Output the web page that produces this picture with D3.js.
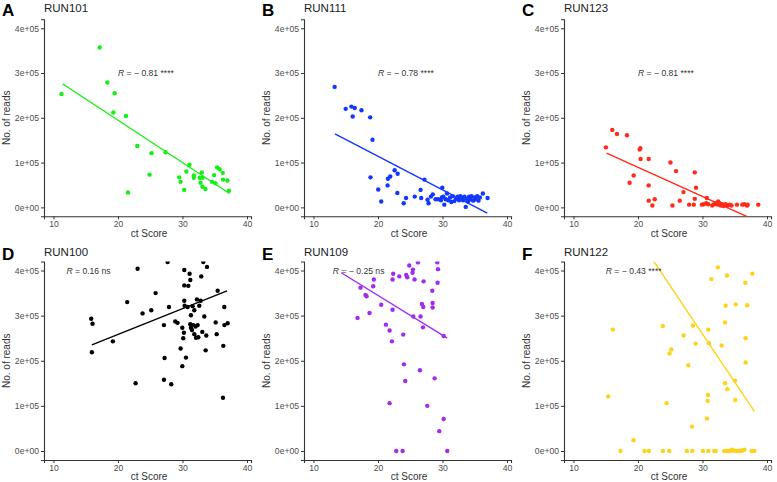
<!DOCTYPE html>
<html><head><meta charset="utf-8">
<script src="https://cdn.jsdelivr.net/npm/d3@7"></script>
<style>body{margin:0;background:#fff}svg{display:block}</style>
</head><body>
<svg id="chart" width="777" height="482"></svg>
<script>
const panelLetters = ["A","B","C","D","E","F"];
const panelTitles = ["RUN101","RUN111","RUN123","RUN100","RUN109","RUN122"];
const panelColors = ["#14f014","#1238ff","#ff2a18","#000000","#a12cf0","#ffd21a"];
const corrLabels = ["\u2212 0.81 ****","\u2212 0.78 ****","\u2212 0.81 ****","0.16 ns","\u2212 0.25 ns","\u2212 0.43 ****"];
const corrLabelX = [20,20,20,12,13,15];
const corrLabelY = [300000,300000,300000,400000,400000,400000];
const xTicks = [10,20,30,40];
const yTicks = [0,100000,200000,300000,400000];
const yTickLabels = ["0e+00","1e+05","2e+05","3e+05","4e+05"];

const runA_x = [11.24,17.16,18.35,19.48,19.28,21.24,21.55,22.99,24.9,25.2,27.37,29.5,29.7,30.26,30.6,31.08,31.75,31.75,32.68,32.8,32.99,33.1,33.1,33.56,34.59,34.9,35.1,35.36,35.77,36.24,36.29,36.96,37.2];
const runA_y = [253000,357000,279000,255000,212000,204000,33000,137000,73000,121000,123000,67000,57000,39000,80000,95000,71000,66000,66000,55000,78000,66000,46000,41000,57000,72000,54000,89000,85000,77000,62000,60000,37000];

const runB_x = [13.28,14.99,15.88,16.08,16.4,17.44,18.79,19.15,18.84,20.04,20.5,21.49,21.54,21.9,22.58,23.05,23.0,23.99,24.35,25.7,26.6,26.7,27.2,27.68,27.84,28.2,28.5,28.93,29.34,29.76,29.9,29.97,30.12,30.28,30.5,30.7,30.9,31.17,31.37,31.58,31.84,32.1,32.36,32.57,32.78,32.99,33.19,33.4,33.6,33.77,33.97,34.13,34.34,34.5,34.75,34.96,35.17,35.38,35.58,35.8,36.26,36.99];
const runB_y = [269000,220000,225000,203000,222000,217000,201000,151000,67000,40000,13000,49000,64000,69000,83000,75000,32000,9000,21000,24000,39000,21000,62000,17000,9000,24000,29000,18000,18000,16000,22000,44000,24000,6000,18000,31000,16000,22000,12000,25000,14000,19000,24000,16000,25000,21000,16000,24000,1000,19000,13000,24000,18000,25000,15000,22000,18000,25000,15000,22000,31000,21000];

const runC_x = [15.03,16.01,16.74,18.29,18.7,19.33,20.26,20.36,20.41,21.66,21.66,21.66,22.23,22.59,25.03,25.34,25.9,26.48,27.05,27.93,28.65,28.8,28.8,29.0,29.9,30.2,30.57,30.67,30.88,31.5,31.8,32.1,32.33,32.44,32.64,32.85,33.06,33.26,33.58,33.89,34.2,34.5,35.34,36.17,36.48,36.9,37.0,38.65];
const runC_y = [134000,173000,164000,161000,55000,71000,129000,132000,108000,108000,49000,15000,4000,18000,100000,4000,81000,15000,34000,6000,6000,19000,78000,44000,6000,7000,9000,21000,7000,4000,7000,10000,6000,13000,9000,4000,7000,3000,7000,4000,6000,4000,6000,6000,7000,4000,6000,6000];

const runD_x = [15.85,16.05,15.95,19.21,21.43,22.73,23.04,23.81,25.16,25.83,27.12,27.22,27.12,27.69,27.9,28.26,28.88,29.24,29.71,29.97,29.97,30.12,30.22,30.28,30.28,30.28,30.33,30.54,30.8,30.9,31.1,31.21,31.31,31.21,31.31,31.47,31.57,31.67,31.83,31.83,32.03,32.09,32.24,32.35,32.45,32.6,32.81,32.91,33.07,33.23,33.38,33.59,33.69,33.8,35.14,35.3,35.45,36.33,36.28,36.48,36.5,37.0];
const runD_y = [293000,282000,219000,243000,330000,150000,404000,305000,312000,350000,279000,206000,158000,419000,319000,148000,287000,284000,227000,273000,188000,250000,262000,401000,367000,333000,322000,207000,319000,366000,393000,379000,301000,281000,273000,268000,321000,279000,312000,259000,276000,251000,336000,279000,252000,322000,333000,387000,264000,419000,298000,223000,256000,408000,285000,259000,355000,233000,118000,319000,279000,283000];

const runE_x = [16.83,17.29,18.07,18.23,18.69,19.26,19.36,20.5,21.23,21.8,21.8,22.16,22.26,22.26,22.36,22.83,23.3,23.81,23.91,24.02,24.23,24.38,24.54,24.85,25.36,25.42,25.47,25.67,26.19,26.5,26.6,26.81,26.97,27.02,27.07,27.64,28.42,28.47,28.47,28.78,29.19,29.3,29.24,29.5,30.18,30.18,30.74];
const runE_y = [295000,362000,346000,343000,306000,365000,380000,324000,280000,267000,106000,243000,313000,380000,393000,0,387000,0,258000,192000,155000,390000,385000,411000,395000,402000,298000,380000,418000,179000,298000,326000,274000,319000,376000,100000,355000,328000,318000,161000,418000,403000,373000,44000,71000,255000,0];

const runF_x = [15.38,16.1,17.29,19.31,21.02,21.69,23.86,23.86,24.43,24.85,24.9,25.16,27.07,27.59,27.8,28.37,28.42,28.52,28.93,30.07,30.69,30.8,30.85,30.9,30.9,31.0,31.37,31.83,32.04,32.4,32.97,33.38,33.49,33.49,33.59,33.7,33.8,33.85,34.1,34.42,34.62,34.83,35.04,35.09,35.14,35.24,35.55,35.87,36.18,36.49,36.64,36.69,36.69,36.95,37.62,37.73,38.04];
const runF_y = [121000,269000,0,24000,0,0,277000,0,106000,0,216000,225000,256000,0,190000,54000,0,278000,238000,0,72000,111000,124000,269000,0,239000,381000,0,0,407000,234000,0,285000,150000,322000,0,389000,137000,0,1000,3000,1000,156000,113000,325000,0,0,0,1000,3000,373000,250000,196000,323000,0,393000,0];

const fitX = [[11.4,37.3],[13.33,36.94],[15.13,38.65],[15.95,36.9],[14.3,30.74],[15.38,38.04]];
const fitY = [[276000,31000],[164000,-13000],[121000,-32000],[235000,355000],[395000,250000],[571000,88000]];

const seriesX = [runA_x,runB_x,runC_x,runD_x,runE_x,runF_x];
const seriesY = [runA_y,runB_y,runC_y,runD_y,runE_y,runF_y];

const svg = d3.select("#chart");
const font = "Liberation Sans, Arial, sans-serif";
const plotLefts = [44,304,564];
const rowRanges = [[216.3,19.3],[460,261.5]];
const rowTitleBase = [11.7,256.3];
const rowLetterBase = [15.5,259.5];
const rowXTitle = [236.5,479.5];

panelTitles.forEach((title,i)=>{
  const col = i%3, row = Math.floor(i/3);
  const L = plotLefts[col];
  const x = d3.scaleLinear().domain([8.53,40.62]).range([L, L+207]);
  const y = d3.scaleLinear().domain([-20000,420000]).range(rowRanges[row]);
  const g = svg.append("g");
  const clipId = "clip"+i;
  g.append("clipPath").attr("id",clipId).append("rect")
    .attr("x",L).attr("y",rowRanges[row][1]).attr("width",207).attr("height",rowRanges[row][0]-rowRanges[row][1]);

  const yAxis = d3.axisLeft(y).tickValues(yTicks).tickFormat((d,k)=>yTickLabels[k]).tickSize(3).tickPadding(2);
  const xAxis = d3.axisBottom(x).tickValues(xTicks).tickSize(3).tickPadding(2);
  const ya = g.append("g").attr("transform",`translate(${L},0)`).call(yAxis);
  const xa = g.append("g").attr("transform",`translate(0,${rowRanges[row][0]})`).call(xAxis);
  [ya,xa].forEach(a=>{
    a.select(".domain").attr("stroke","#333").attr("stroke-width",1.1);
    a.selectAll(".tick line").attr("stroke","#333");
    a.selectAll(".tick text").attr("fill","#4d4d4d").attr("font-size","8.6px").attr("font-family",font);
  });

  const pg = g.append("g").attr("clip-path",`url(#${clipId})`);
  pg.selectAll("circle").data(seriesX[i].map((v,k)=>[v,seriesY[i][k]])).join("circle")
    .attr("cx",d=>x(d[0])).attr("cy",d=>y(d[1])).attr("r",2.2).attr("fill",panelColors[i]);
  pg.append("line")
    .attr("x1",x(fitX[i][0])).attr("y1",y(fitY[i][0]))
    .attr("x2",x(fitX[i][1])).attr("y2",y(fitY[i][1]))
    .attr("stroke",panelColors[i]).attr("stroke-width",1.4);

  const t = g.append("text").attr("x",x(corrLabelX[i])).attr("y",y(corrLabelY[i])+3)
    .attr("font-size","8.6px").attr("font-family",font).attr("fill","#333");
  t.append("tspan").attr("font-style","italic").text("R");
  t.append("tspan").text(" = "+corrLabels[i]);

  g.append("text").attr("x",L - 42).attr("y",rowLetterBase[row]).text(panelLetters[i])
    .attr("font-size","17px").attr("font-weight","bold").attr("font-family",font).attr("fill","#000");
  g.append("text").attr("x",L).attr("y",rowTitleBase[row]).text(title)
    .attr("font-size","11.5px").attr("font-family",font).attr("fill","#222");
  const yc = (rowRanges[row][0]+rowRanges[row][1])/2;
  g.append("text").attr("transform",`translate(${L-34},${yc}) rotate(-90)`).attr("text-anchor","middle")
    .text("No. of reads").attr("font-size","10px").attr("font-family",font).attr("fill","#333");
  g.append("text").attr("x",L+105).attr("y",rowXTitle[row]).attr("text-anchor","middle")
    .text("ct Score").attr("font-size","10px").attr("font-family",font).attr("fill","#333");
});
</script>
</body></html>
